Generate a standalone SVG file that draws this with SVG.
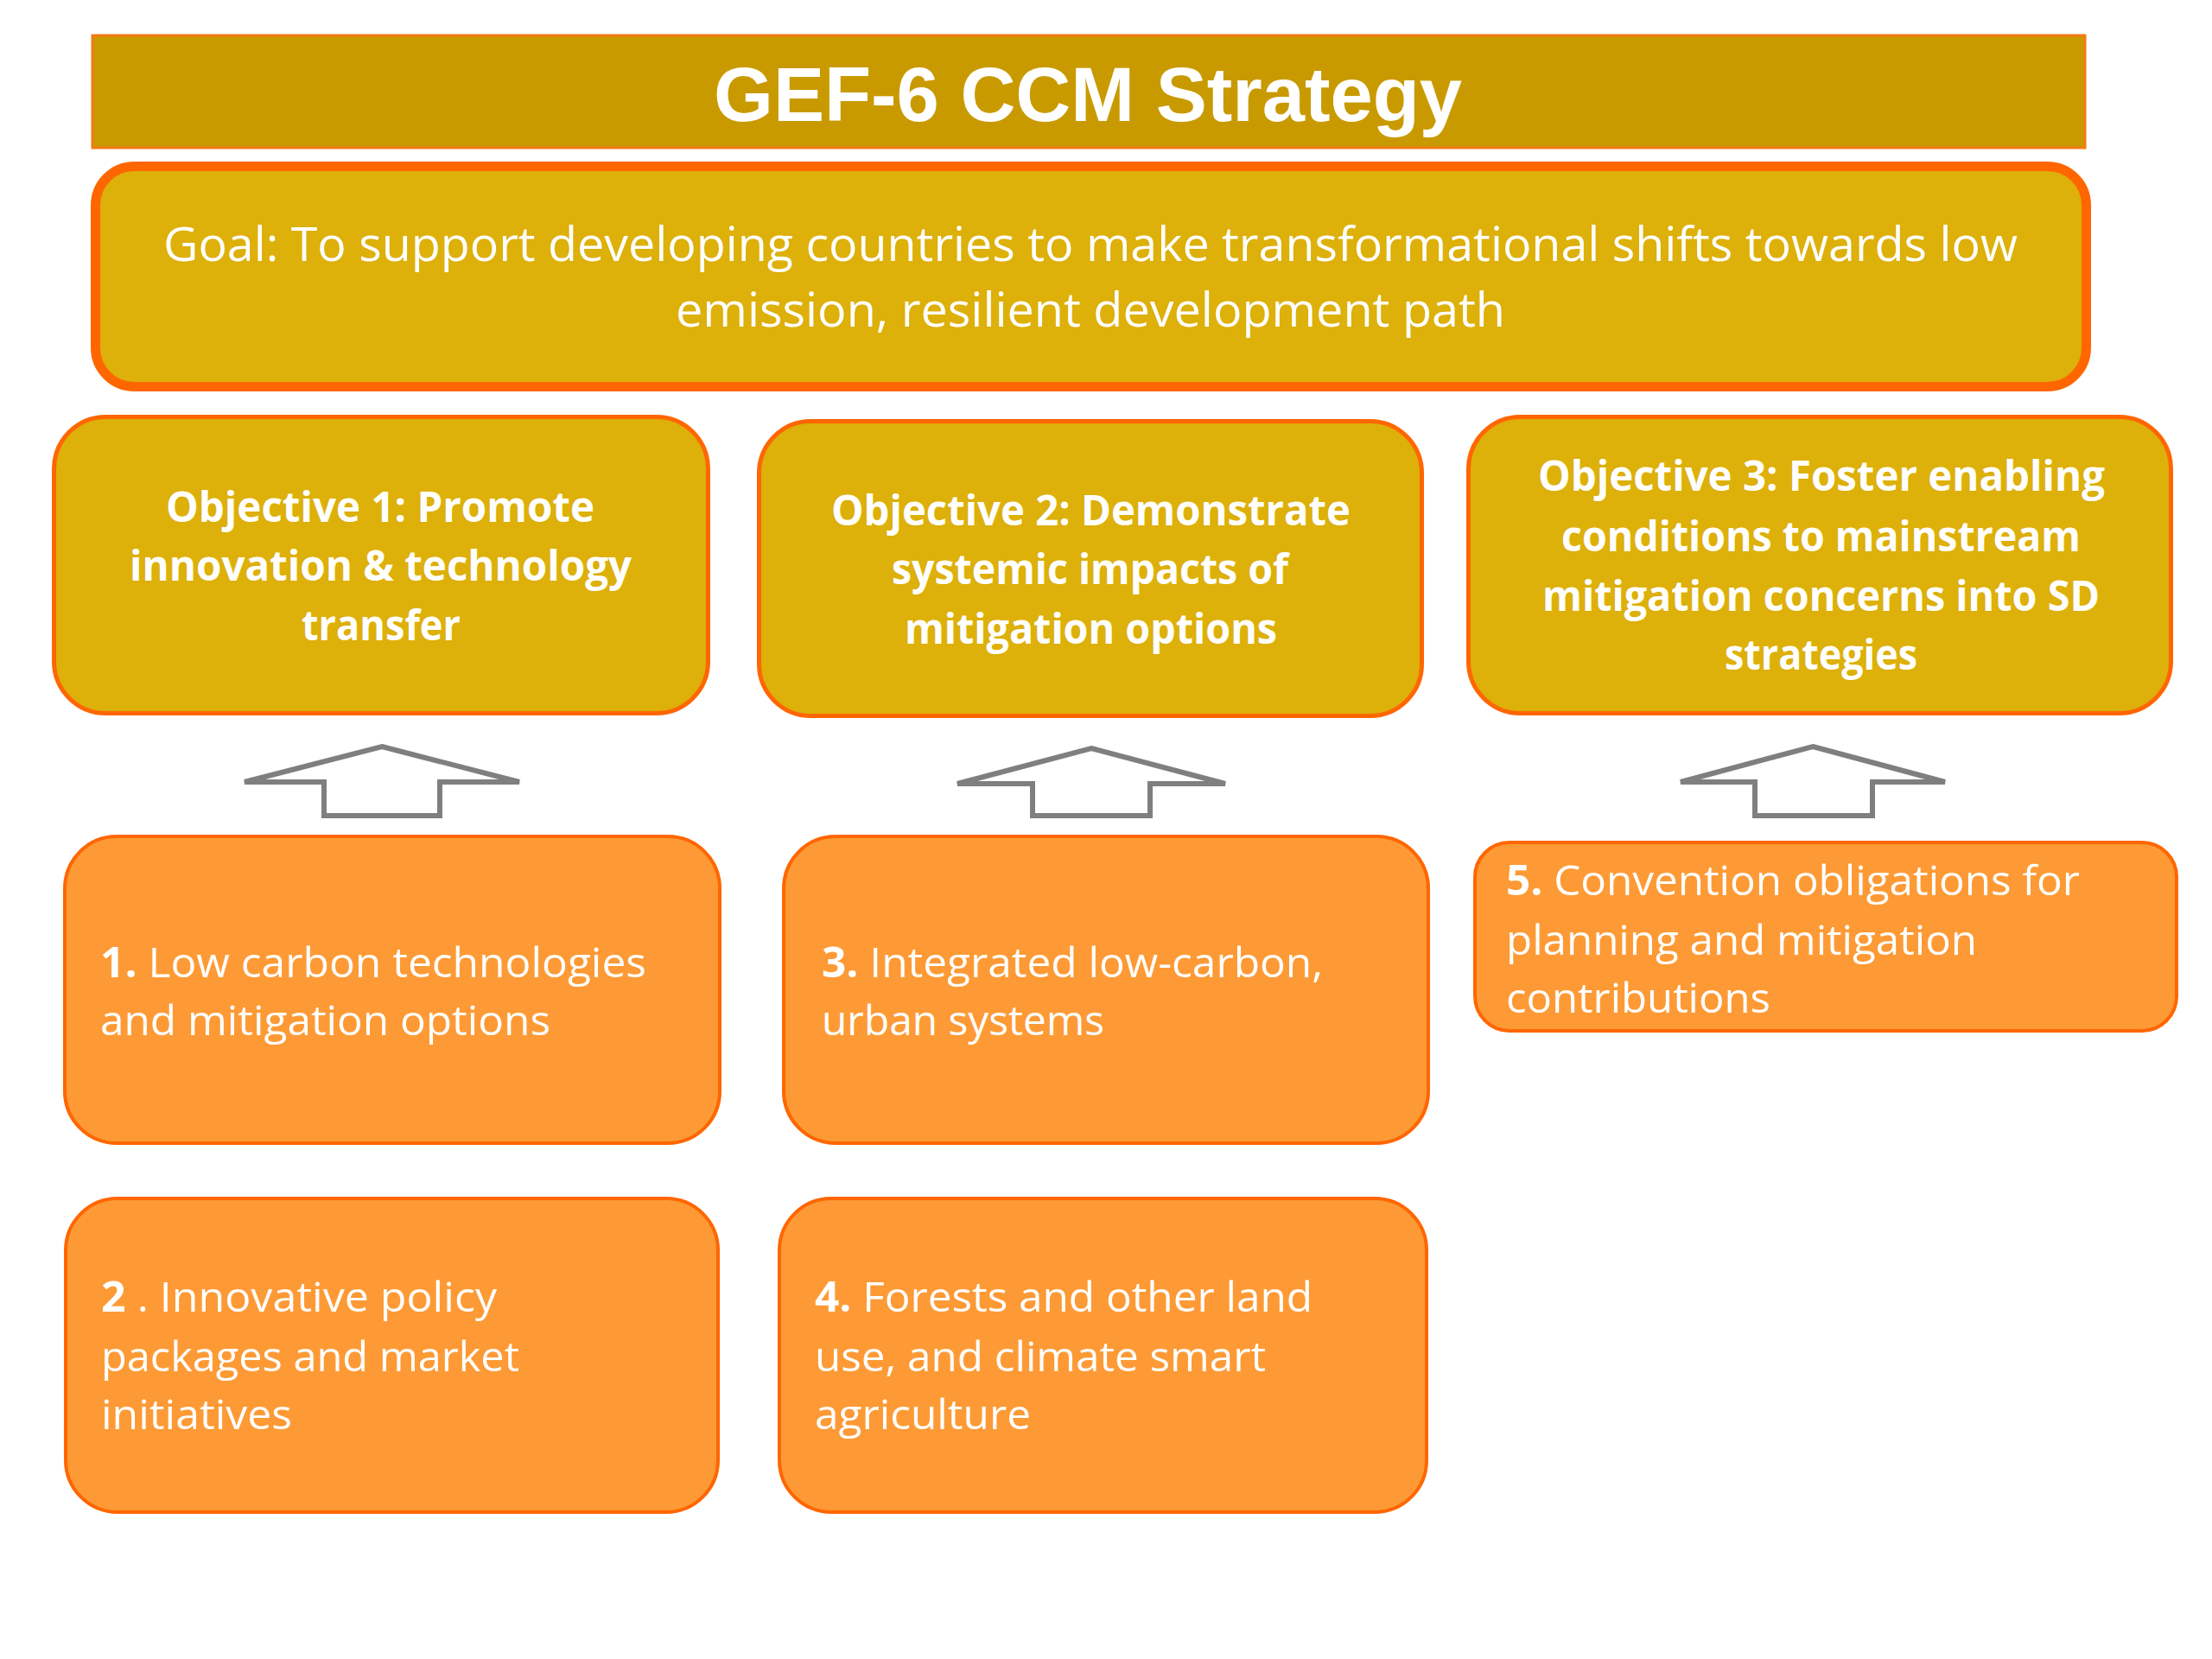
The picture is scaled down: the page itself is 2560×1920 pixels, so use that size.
<svg xmlns="http://www.w3.org/2000/svg" width="2560" height="1920" viewBox="0 0 2560 1920">
<style>
.title{font-family:"Liberation Sans",Arial,sans-serif;font-weight:bold;font-size:89px;fill:#fff}
.goal{font-family:"Open Sans","Noto Sans",sans-serif;font-size:55px;fill:#fff}
.obj{font-family:"Open Sans","Noto Sans",sans-serif;font-weight:bold;font-size:48px;fill:#fff}
.item{font-family:"Open Sans","Noto Sans",sans-serif;font-size:48px;fill:#fff}
.b{font-weight:bold}
.gold{fill:#DDB00A;stroke:#FF6600}
.orange{fill:#FD9A35;stroke:#FF6600;stroke-width:4}
.arrow{fill:#fff;stroke:#7F7F7F;stroke-width:6;stroke-linejoin:miter}
</style>
<rect width="2560" height="1920" fill="#fff"/>

<g id="title">
<rect x="107" y="41" width="2306" height="130" fill="#C99A00" stroke="#F27A14" stroke-width="3"/>
<text class="title" x="826" y="140" textLength="866" lengthAdjust="spacingAndGlyphs">GEF-6 CCM Strategy</text>
</g>

<g id="goal">
<rect class="gold" x="110.5" y="192.5" width="2304" height="255" rx="45" stroke-width="11"/>
<text class="goal" x="189" y="302" textLength="2146" lengthAdjust="spacingAndGlyphs">Goal: To support developing countries to make transformational shifts towards low</text>
<text class="goal" x="782" y="378" textLength="960" lengthAdjust="spacingAndGlyphs">emission, resilient development path</text>
</g>

<g id="objective1">
<rect class="gold" x="62.5" y="482.5" width="757" height="343" rx="60" stroke-width="5"/>
<text class="obj" x="192" y="604" textLength="496" lengthAdjust="spacingAndGlyphs">Objective 1: Promote</text>
<text class="obj" x="150" y="672" textLength="581" lengthAdjust="spacingAndGlyphs">innovation &amp; technology</text>
<text class="obj" x="349" y="741" textLength="184" lengthAdjust="spacingAndGlyphs">transfer</text>
</g>

<g id="objective2">
<rect class="gold" x="878.5" y="487.5" width="767" height="341" rx="60" stroke-width="5"/>
<text class="obj" x="962" y="608" textLength="601" lengthAdjust="spacingAndGlyphs">Objective 2: Demonstrate</text>
<text class="obj" x="1032" y="676" textLength="459" lengthAdjust="spacingAndGlyphs">systemic impacts of</text>
<text class="obj" x="1047" y="745" textLength="431" lengthAdjust="spacingAndGlyphs">mitigation options</text>
</g>

<g id="objective3">
<rect class="gold" x="1699.5" y="482.5" width="813" height="343" rx="60" stroke-width="5"/>
<text class="obj" x="1780" y="568" textLength="656" lengthAdjust="spacingAndGlyphs">Objective 3: Foster enabling</text>
<text class="obj" x="1807" y="638" textLength="601" lengthAdjust="spacingAndGlyphs">conditions to mainstream</text>
<text class="obj" x="1785" y="707" textLength="645" lengthAdjust="spacingAndGlyphs">mitigation concerns into SD</text>
<text class="obj" x="1996" y="775" textLength="223" lengthAdjust="spacingAndGlyphs">strategies</text>
</g>

<g id="connectors">
<path class="arrow" d="M442,864 L601,905 L509,905 L509,944 L375,944 L375,905 L283,905 Z"/>
<path class="arrow" d="M1263,866 L1418,907 L1331,907 L1331,944 L1195,944 L1195,907 L1108,907 Z"/>
<path class="arrow" d="M2098,864 L2251,905 L2167,905 L2167,944 L2031,944 L2031,905 L1945,905 Z"/>
</g>

<g id="item1">
<rect class="orange" x="75" y="968" width="758" height="355" rx="60"/>
<text class="item" x="116" y="1131" textLength="632" lengthAdjust="spacingAndGlyphs"><tspan class="b">1.</tspan> Low carbon technologies</text>
<text class="item" x="116" y="1198" textLength="521" lengthAdjust="spacingAndGlyphs">and mitigation options</text>
</g>

<g id="item3">
<rect class="orange" x="907" y="968" width="746" height="355" rx="60"/>
<text class="item" x="951" y="1131" textLength="580" lengthAdjust="spacingAndGlyphs"><tspan class="b">3.</tspan> Integrated low-carbon,</text>
<text class="item" x="951" y="1198" textLength="327" lengthAdjust="spacingAndGlyphs">urban systems</text>
</g>

<g id="item5">
<rect class="orange" x="1707" y="975" width="812" height="218" rx="40"/>
<text class="item" x="1743" y="1036" textLength="664" lengthAdjust="spacingAndGlyphs"><tspan class="b">5.</tspan> Convention obligations for</text>
<text class="item" x="1743" y="1105" textLength="545" lengthAdjust="spacingAndGlyphs">planning and mitigation</text>
<text class="item" x="1743" y="1172" textLength="306" lengthAdjust="spacingAndGlyphs">contributions</text>
</g>

<g id="item2">
<rect class="orange" x="76" y="1387" width="755" height="363" rx="60"/>
<text class="item" x="117" y="1518" textLength="458" lengthAdjust="spacingAndGlyphs"><tspan class="b">2</tspan> . Innovative policy</text>
<text class="item" x="117" y="1587" textLength="484" lengthAdjust="spacingAndGlyphs">packages and market</text>
<text class="item" x="117" y="1654" textLength="221" lengthAdjust="spacingAndGlyphs">initiatives</text>
</g>

<g id="item4">
<rect class="orange" x="902" y="1387" width="749" height="363" rx="60"/>
<text class="item" x="943" y="1518" textLength="576" lengthAdjust="spacingAndGlyphs"><tspan class="b">4.</tspan> Forests and other land</text>
<text class="item" x="943" y="1587" textLength="522" lengthAdjust="spacingAndGlyphs">use, and climate smart</text>
<text class="item" x="943" y="1654" textLength="250" lengthAdjust="spacingAndGlyphs">agriculture</text>
</g>
</svg>
